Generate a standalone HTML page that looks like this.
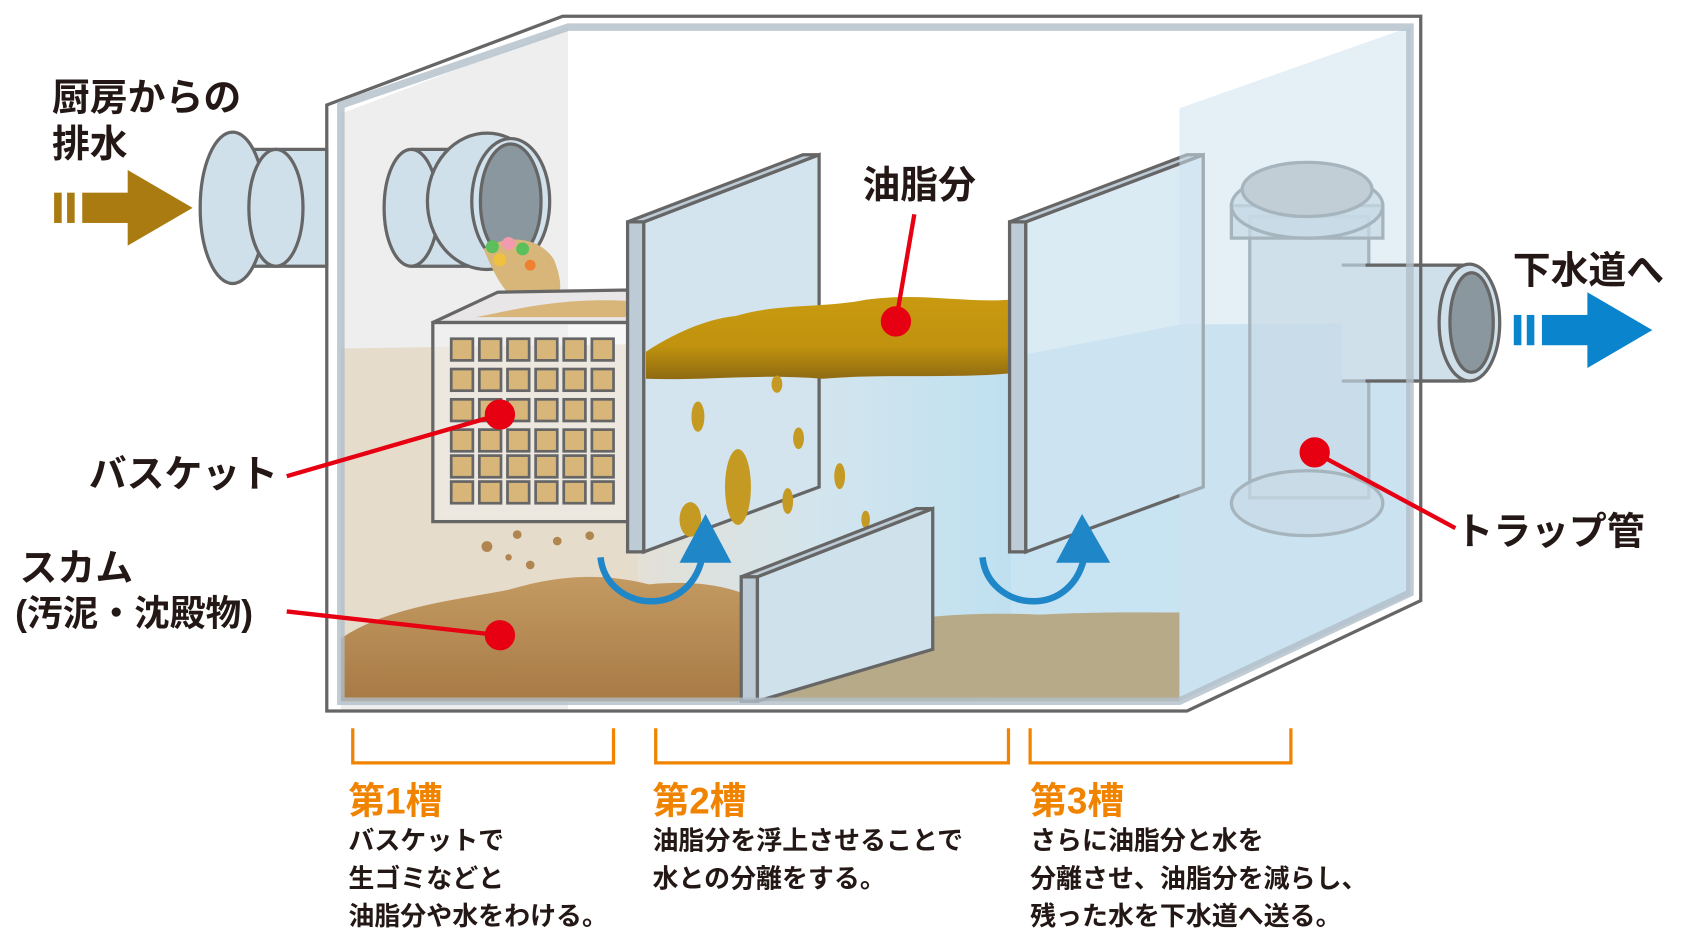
<!DOCTYPE html>
<html><head><meta charset="utf-8"><style>
html,body{margin:0;padding:0;background:#fff;}
svg{display:block}
text{font-family:"Liberation Sans","Noto Sans CJK JP",sans-serif;font-weight:bold;}
</style></head><body>
<svg width="1688" height="948" viewBox="0 0 1560 876" xmlns="http://www.w3.org/2000/svg">
<defs>
<linearGradient id="oil" x1="0" y1="0" x2="0" y2="1"><stop offset="0" stop-color="#c99a10"/><stop offset="0.6" stop-color="#c0920e"/><stop offset="1" stop-color="#8f6a12"/></linearGradient>
<linearGradient id="mud" x1="0" y1="0" x2="0" y2="1"><stop offset="0" stop-color="#c39a62"/><stop offset="1" stop-color="#a87a45"/></linearGradient>
<linearGradient id="w23" x1="0" y1="0" x2="1" y2="0"><stop offset="0" stop-color="#e3e0d6"/><stop offset="0.5" stop-color="#d2e5ee"/><stop offset="1" stop-color="#bfe0f0"/></linearGradient>
</defs>
<polygon points="302,97 520,15 1313,15 1313,555 1097,657 302,657" fill="#ffffff"/>
<polygon points="315,105 525,25 525,657 315,657" fill="#eeeeee"/>
<polygon points="315,322 590,318 590,648 315,648" fill="#e6dccb"/>
<polygon points="590,318 935,330 935,648 590,648" fill="url(#w23)"/>
<polygon points="935,330 1090,300 1303,298 1303,550 1090,648 935,648" fill="#c8e3f1"/>
<!-- inlet pipe -->
<g stroke="#666" stroke-width="3">
<rect x="232" y="138" width="70" height="108" fill="#cfe0ea"/>
<ellipse cx="215" cy="192" rx="30" ry="70" fill="#cfe0ea"/>
<ellipse cx="255" cy="192" rx="25" ry="54" fill="#cfe0ea"/>
<rect x="375" y="138" width="70" height="108" fill="#cfe0ea" stroke="none"/>
<ellipse cx="380" cy="192" rx="25" ry="54" fill="#cfe0ea"/>
<path d="M380,138 H445 M380,246 H445" fill="none"/>
<ellipse cx="450" cy="186" rx="55" ry="63" fill="#cfe0ea"/>
<ellipse cx="472" cy="186" rx="36" ry="58" fill="#d2e2ec"/>
<ellipse cx="472" cy="186" rx="28" ry="53" fill="#8a979e"/>
</g>
<path d="M447,230 C470,215 500,220 512,240 C520,260 520,275 510,280 C500,285 490,270 478,278 C465,270 455,250 447,230Z" fill="#d8b67a"/>
<circle cx="455" cy="228" r="6" fill="#5bbf5b"/><circle cx="470" cy="225" r="6" fill="#f29ab0"/><circle cx="483" cy="230" r="6" fill="#5bbf5b"/><circle cx="462" cy="240" r="6" fill="#f0c040"/><circle cx="490" cy="245" r="5" fill="#f08030"/>
<!-- basket -->
<polygon points="400,298 460,270 580,268 580,298" fill="#e8e6e6" stroke="#666" stroke-width="3"/>
<path d="M440,293 C480,285 520,275 580,278 L580,293Z" fill="#d8b67a"/>
<rect x="400" y="298" width="180" height="184" fill="rgba(240,240,240,0.55)" stroke="#666" stroke-width="3"/>
<g fill="#d8b67a" stroke="#666" stroke-width="2.5">
<rect x="417" y="313" width="20" height="20"/><rect x="443" y="313" width="20" height="20"/><rect x="469" y="313" width="20" height="20"/><rect x="495" y="313" width="20" height="20"/><rect x="521" y="313" width="20" height="20"/><rect x="547" y="313" width="20" height="20"/>
<rect x="417" y="341" width="20" height="20"/><rect x="443" y="341" width="20" height="20"/><rect x="469" y="341" width="20" height="20"/><rect x="495" y="341" width="20" height="20"/><rect x="521" y="341" width="20" height="20"/><rect x="547" y="341" width="20" height="20"/>
<rect x="417" y="369" width="20" height="20"/><rect x="443" y="369" width="20" height="20"/><rect x="469" y="369" width="20" height="20"/><rect x="495" y="369" width="20" height="20"/><rect x="521" y="369" width="20" height="20"/><rect x="547" y="369" width="20" height="20"/>
<rect x="417" y="397" width="20" height="20"/><rect x="443" y="397" width="20" height="20"/><rect x="469" y="397" width="20" height="20"/><rect x="495" y="397" width="20" height="20"/><rect x="521" y="397" width="20" height="20"/><rect x="547" y="397" width="20" height="20"/>
<rect x="417" y="421" width="20" height="20"/><rect x="443" y="421" width="20" height="20"/><rect x="469" y="421" width="20" height="20"/><rect x="495" y="421" width="20" height="20"/><rect x="521" y="421" width="20" height="20"/><rect x="547" y="421" width="20" height="20"/>
<rect x="417" y="445" width="20" height="20"/><rect x="443" y="445" width="20" height="20"/><rect x="469" y="445" width="20" height="20"/><rect x="495" y="445" width="20" height="20"/><rect x="521" y="445" width="20" height="20"/><rect x="547" y="445" width="20" height="20"/>
</g>
<g fill="#b08550"><circle cx="450" cy="505" r="5"/><circle cx="478" cy="494" r="4"/><circle cx="490" cy="522" r="4"/><circle cx="515" cy="500" r="4"/><circle cx="545" cy="495" r="4"/><circle cx="470" cy="515" r="3"/></g>
<path d="M315,590 C360,560 420,555 470,545 C520,530 560,530 600,540 C650,535 680,545 690,550 L690,648 L315,648Z" fill="url(#mud)"/>
<path d="M700,600 C740,590 780,585 810,578 C840,570 900,565 960,568 C1020,565 1060,566 1090,566 L1090,648 L700,648Z" fill="#b7aa88"/>
<!-- baffle 1 -->
<polygon points="580,205 595,205 595,510 580,510" fill="#bccbd6" stroke="#666" stroke-width="3"/>
<polygon points="595,205 757,143 757,450 595,510" fill="#d3e4ee" stroke="#666" stroke-width="3"/>
<polygon points="580,205 742,143 757,143 595,205" fill="#bccbd6" stroke="#666" stroke-width="3"/>
<!-- oil over panel -->
<path d="M597,325 C620,310 650,295 680,292 C720,280 760,285 800,277 C850,270 890,280 933,277 L933,345 C880,350 820,345 760,350 C700,345 650,352 597,350Z" fill="url(#oil)"/>
<g fill="#c49a22"><ellipse cx="645" cy="385" rx="6" ry="14"/><ellipse cx="682" cy="450" rx="12" ry="35"/><ellipse cx="638" cy="480" rx="10" ry="16"/><ellipse cx="738" cy="405" rx="5" ry="10"/><ellipse cx="776" cy="440" rx="5" ry="12"/><ellipse cx="728" cy="463" rx="5" ry="12"/><ellipse cx="800" cy="480" rx="4" ry="8"/><ellipse cx="718" cy="355" rx="5" ry="8"/></g>
<!-- low baffle -->
<polygon points="685,533 700,533 700,648 685,648" fill="#bccbd6" stroke="#666" stroke-width="3"/>
<polygon points="700,533 862,470 862,600 700,648" fill="#cfe2ec" stroke="#666" stroke-width="3"/>
<polygon points="685,533 847,470 862,470 700,533" fill="#bccbd6" stroke="#666" stroke-width="3"/>
<!-- baffle 2 -->
<polygon points="933,205 948,205 948,510 933,510" fill="#bccbd6" stroke="#666" stroke-width="3"/>
<polygon points="948,205 1112,143 1112,450 948,510" fill="rgba(205,228,240,0.75)" stroke="#666" stroke-width="3"/>
<polygon points="933,205 1097,143 1112,143 948,205" fill="#bccbd6" stroke="#666" stroke-width="3"/>
<!-- glass right panel -->
<polygon points="1090,100 1303,25 1303,550 1090,648" fill="rgba(205,225,238,0.55)"/>
<!-- trap pipe -->
<g stroke="#a6b4bd" stroke-width="3" fill="rgba(200,218,230,0.7)">
<rect x="1155" y="200" width="110" height="260"/>
<ellipse cx="1208" cy="465" rx="70" ry="30"/>
<rect x="1138" y="190" width="140" height="30"/>
<ellipse cx="1208" cy="190" rx="70" ry="30"/>
<ellipse cx="1208" cy="175" rx="60" ry="25" fill="#c2ced6"/>
</g>
<g stroke="#666" stroke-width="3">
<path d="M1240,245 H1355 V352 H1240" fill="#cfe0ea" stroke="#a6b4bd"/>
<path d="M1262,245 H1355 M1262,352 H1355" fill="none"/>
<ellipse cx="1358" cy="298" rx="28" ry="54" fill="#cfe0ea"/>
<ellipse cx="1360" cy="298" rx="20" ry="46" fill="#8a979e"/>
</g>
<polygon points="302,97 520,15 1313,15 1313,555 1097,657 302,657" fill="none" stroke="#666" stroke-width="3"/>
<polygon points="315,97 315,648 1090,648 1303,548 1303,25 525,25" fill="none" stroke="#b0bec8" stroke-width="7" opacity="0.8"/>
<g fill="none" stroke="#1f86c8" stroke-width="6"><path d="M555,515 C560,565 640,575 650,510"/><path d="M908,515 C913,565 993,575 1003,510"/></g>
<polygon points="628,520 652,475 676,520" fill="#1f86c8"/><polygon points="976,520 1000,475 1026,520" fill="#1f86c8"/>
<g fill="#a97b10"><rect x="50" y="178" width="7" height="28"/><rect x="62" y="178" width="7" height="28"/><rect x="76" y="178" width="44" height="28"/><polygon points="118,157 178,192 118,227"/></g>
<g fill="#0a84cc"><rect x="1399" y="291" width="7" height="28"/><rect x="1411" y="291" width="7" height="28"/><rect x="1425" y="291" width="44" height="28"/><polygon points="1467,270 1527,305 1467,340"/></g>
<g stroke="#e60012" stroke-width="4" fill="#e60012">
<line x1="265" y1="440" x2="462" y2="383"/><circle cx="462" cy="383" r="12"/>
<line x1="265" y1="565" x2="462" y2="587"/><circle cx="462" cy="587" r="12"/>
<line x1="845" y1="198" x2="828" y2="297"/><circle cx="828" cy="297" r="12"/>
<line x1="1345" y1="488" x2="1215" y2="418"/><circle cx="1215" cy="418" r="12"/>
</g>
<g fill="#231815" font-size="35">
<text x="48" y="102">厨房からの</text><text x="48" y="145">排水</text>
<text x="1398" y="262">下水道へ</text>
<text x="797" y="183">油脂分</text>
<text x="82" y="450">バスケット</text>
<text x="18" y="537">スカム</text><text x="14" y="578" font-size="33">(汚泥・沈殿物)</text>
<text x="1345" y="503">トラップ管</text>
</g>
<g fill="none" stroke="#f08300" stroke-width="3"><path d="M326,673 V705 H567 V673"/><path d="M606,673 V705 H932 V673"/><path d="M952,673 V705 H1193 V673"/></g>
<g fill="#f08300" font-size="34"><text x="322" y="752">第1槽</text><text x="603" y="752">第2槽</text><text x="952" y="752">第3槽</text></g>
<g fill="#231815" font-size="24">
<text x="322" y="785">バスケットで</text><text x="322" y="820">生ゴミなどと</text><text x="322" y="855">油脂分や水をわける。</text>
<text x="603" y="785">油脂分を浮上させることで</text><text x="603" y="820">水との分離をする。</text>
<text x="952" y="785">さらに油脂分と水を</text><text x="952" y="820">分離させ、油脂分を減らし、</text><text x="952" y="855">残った水を下水道へ送る。</text>
</g>
</svg>
</body></html>
